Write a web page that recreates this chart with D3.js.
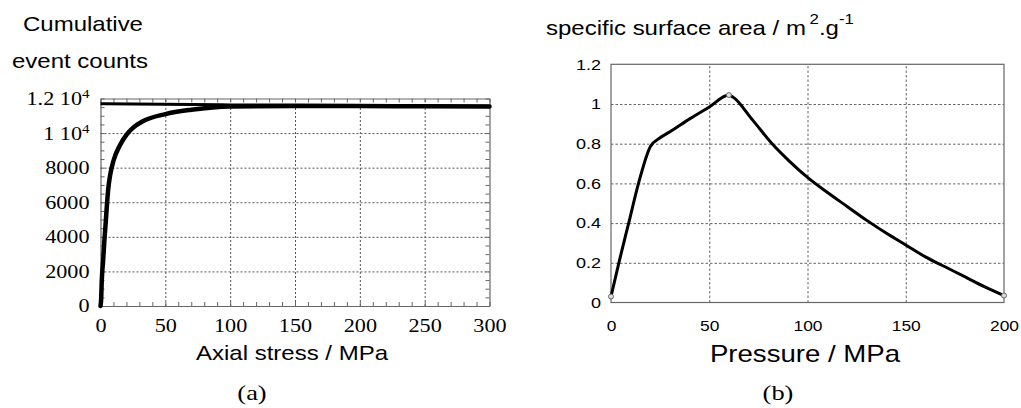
<!DOCTYPE html>
<html>
<head>
<meta charset="utf-8">
<script src="https://cdn.jsdelivr.net/npm/d3@7"></script>
<style>
  html, body { margin: 0; padding: 0; background: #fff; }
  svg { display: block; }
</style>
</head>
<body>
<svg id="chart" width="1021" height="408"></svg>
<script>
// ---------- Data ----------
// (a) cumulative AE event counts vs axial stress (loading branch)
const stressLoad  = [0, 0.5, 1, 2, 3, 4, 5, 6, 7.5, 10, 15, 20, 25, 33, 50, 70, 100, 150, 200, 250, 300];
const countsLoad  = [0, 400, 1500, 2600, 3800, 4800, 5900, 6800, 7600, 8400, 9300, 9900, 10300, 10700, 11100, 11350, 11540, 11560, 11560, 11550, 11540];
// (a) unloading branch (counts stay constant)
const stressUnload = [300, 200, 100, 0];
const countsUnload = [11550, 11590, 11630, 11700];
const aXTicks = [0, 50, 100, 150, 200, 250, 300];
const aYTicks = [0, 2000, 4000, 6000, 8000, 10000, 12000];
const aYTickLabels = ["0", "2000", "4000", "6000", "8000", "1 10|4", "1.2 10|4"];

// (b) specific surface area vs pressure
const pressure = [0, 4, 9, 14, 20, 25, 30, 40, 50, 60, 62, 72, 82, 91, 100, 110, 120, 130, 140, 150, 160, 170, 180, 190, 200];
const ssa      = [0.03, 0.2, 0.4, 0.6, 0.785, 0.83, 0.86, 0.925, 0.985, 1.045, 1.035, 0.92, 0.8, 0.71, 0.63, 0.555, 0.485, 0.415, 0.35, 0.29, 0.23, 0.18, 0.13, 0.08, 0.035];
const markerP  = [0, 60, 200];
const markerS  = [0.03, 1.045, 0.035];
const bXTicks = [0, 50, 100, 150, 200];
const bYTicks = [0, 0.2, 0.4, 0.6, 0.8, 1.0, 1.2];
const bYTickLabels = ["0", "0.2", "0.4", "0.6", "0.8", "1", "1.2"];

// ---------- Helpers ----------
const SX = 1.2; // horizontal stretch of all text in the reference
function stretch(sel) {
  sel.each(function () {
    const t = d3.select(this);
    const x = +t.attr("x") || 0;
    t.attr("transform", `translate(${x},0) scale(${SX},1) translate(${-x},0)`);
  });
}
const SANS = "'Liberation Sans', Arial, sans-serif";
const SERIF = "'Liberation Serif', 'Times New Roman', serif";

const svg = d3.select("#chart");

// ================= Chart (a) =================
const ax = d3.scaleLinear().domain([0, 300]).range([100.5, 489.5]);
const ay = d3.scaleLinear().domain([0, 12000]).range([306, 98.5]);
const ga = svg.append("g");

// grid
ga.append("g").attr("transform", `translate(0,${ay(0)})`)
  .call(d3.axisBottom(ax).tickValues(aXTicks.slice(1, -1)).tickSize(-(ay(0) - ay(12000))).tickFormat(""))
  .call(g => g.select(".domain").remove())
  .call(g => g.selectAll("line").attr("stroke", "#555").attr("stroke-dasharray", "2,2"));
ga.append("g").attr("transform", `translate(${ax(0)},0)`)
  .call(d3.axisLeft(ay).tickValues(aYTicks.slice(1, -1)).tickSize(-(ax(300) - ax(0))).tickFormat(""))
  .call(g => g.select(".domain").remove())
  .call(g => g.selectAll("line").attr("stroke", "#555").attr("stroke-dasharray", "2,2"));

// frame + inward minor ticks
const minorX = d3.range(0, 301, 10);
const minorY = d3.range(0, 12001, 500);
function frameStyle(g) {
  g.select(".domain").attr("stroke", "#666").attr("stroke-width", 1.2);
  g.selectAll("line").attr("stroke", "#666");
  g.selectAll("text").remove();
}
ga.append("g").attr("transform", `translate(0,${ay(0)})`)
  .call(d3.axisBottom(ax).tickValues(minorX).tickSize(-4).tickSizeOuter(0)).call(frameStyle);
ga.append("g").attr("transform", `translate(0,${ay(12000)})`)
  .call(d3.axisTop(ax).tickValues(minorX).tickSize(-4).tickSizeOuter(0)).call(frameStyle);
ga.append("g").attr("transform", `translate(${ax(0)},0)`)
  .call(d3.axisLeft(ay).tickValues(minorY).tickSize(-4).tickSizeOuter(0)).call(frameStyle);
ga.append("g").attr("transform", `translate(${ax(300)},0)`)
  .call(d3.axisRight(ay).tickValues(minorY).tickSize(-4).tickSizeOuter(0)).call(frameStyle);

// tick labels (serif)
const axLab = ga.append("g").attr("transform", `translate(0,${ay(0)})`)
  .call(d3.axisBottom(ax).tickValues(aXTicks).tickSize(0).tickPadding(13).tickFormat(d3.format("d")));
axLab.select(".domain").remove();
axLab.selectAll("text").attr("font-family", SERIF).attr("font-size", 18.5).attr("fill", "#000").call(stretch);

const ayLab = ga.append("g").attr("transform", `translate(${ax(0)},0)`)
  .call(d3.axisLeft(ay).tickValues(aYTicks).tickSize(0).tickPadding(11)
    .tickFormat((d, i) => aYTickLabels[i]));
ayLab.select(".domain").remove();
ayLab.selectAll("text").each(function () {
  const t = d3.select(this);
  const s = t.text();
  if (s.includes("|")) {
    const [base, sup] = s.split("|");
    t.text(null);
    t.append("tspan").text(base);
    t.append("tspan").attr("font-size", 12.5).attr("dy", "-0.55em").text(sup);
  }
}).attr("font-family", SERIF).attr("font-size", 18.5).attr("fill", "#000").call(stretch);

// data lines
const lineA = d3.line().x(d => ax(d[0])).y(d => ay(d[1])).curve(d3.curveMonotoneX);
ga.append("path")
  .datum(stressUnload.map((s, i) => [s, countsUnload[i]]).reverse())
  .attr("d", lineA).attr("fill", "none").attr("stroke", "#000").attr("stroke-width", 3);
ga.append("path")
  .datum(stressLoad.map((s, i) => [s, countsLoad[i]]))
  .attr("d", lineA).attr("fill", "none").attr("stroke", "#000").attr("stroke-width", 4.5)
  .attr("stroke-linejoin", "round").attr("stroke-linecap", "round");

// titles
ga.append("text").attr("x", 23).attr("y", 31.5).text("Cumulative")
  .attr("font-family", SANS).attr("font-size", 20).call(stretch);
ga.append("text").attr("x", 12).attr("y", 68).text("event counts")
  .attr("font-family", SANS).attr("font-size", 20).call(stretch);
ga.append("text").attr("x", 292).attr("y", 360).attr("text-anchor", "middle").text("Axial stress / MPa")
  .attr("font-family", SANS).attr("font-size", 20).call(stretch);
ga.append("text").attr("x", 252).attr("y", 400).attr("text-anchor", "middle").text("(a)")
  .attr("font-family", SERIF).attr("font-size", 22).call(stretch);

// ================= Chart (b) =================
const bx = d3.scaleLinear().domain([0, 200]).range([611, 1004]);
const by = d3.scaleLinear().domain([0, 1.2]).range([302.5, 64.3]);
const gb = svg.append("g");

gb.append("g").attr("transform", `translate(0,${by(0)})`)
  .call(d3.axisBottom(bx).tickValues(bXTicks.slice(1, -1)).tickSize(-(by(0) - by(1.2))).tickFormat(""))
  .call(g => g.select(".domain").remove())
  .call(g => g.selectAll("line").attr("stroke", "#666").attr("stroke-dasharray", "2.5,2"));
gb.append("g").attr("transform", `translate(${bx(0)},0)`)
  .call(d3.axisLeft(by).tickValues(bYTicks.slice(1, -1)).tickSize(-(bx(200) - bx(0))).tickFormat(""))
  .call(g => g.select(".domain").remove())
  .call(g => g.selectAll("line").attr("stroke", "#666").attr("stroke-dasharray", "2.5,2"));

// frame
gb.append("rect").attr("x", bx(0)).attr("y", by(1.2))
  .attr("width", bx(200) - bx(0)).attr("height", by(0) - by(1.2))
  .attr("fill", "none").attr("stroke", "#666").attr("stroke-width", 1.2);

const bxLab = gb.append("g").attr("transform", `translate(0,${by(0)})`)
  .call(d3.axisBottom(bx).tickValues(bXTicks).tickSize(0).tickPadding(18).tickFormat(d3.format("d")));
bxLab.select(".domain").remove();
bxLab.selectAll("text").attr("font-family", SANS).attr("font-size", 14.5).attr("fill", "#000").call(stretch);

const byLab = gb.append("g").attr("transform", `translate(${bx(0)},0)`)
  .call(d3.axisLeft(by).tickValues(bYTicks).tickSize(0).tickPadding(10)
    .tickFormat((d, i) => bYTickLabels[i]));
byLab.select(".domain").remove();
byLab.selectAll("text").attr("font-family", SANS).attr("font-size", 15).attr("fill", "#000").call(stretch);

const lineB = d3.line().x(d => bx(d[0])).y(d => by(d[1])).curve(d3.curveMonotoneX);
gb.append("path")
  .datum(pressure.map((p, i) => [p, ssa[i]]))
  .attr("d", lineB).attr("fill", "none").attr("stroke", "#000").attr("stroke-width", 3)
  .attr("stroke-linejoin", "round");
gb.selectAll("circle.mk").data(markerP.map((p, i) => [p, markerS[i]])).join("circle")
  .attr("class", "mk").attr("cx", d => bx(d[0])).attr("cy", d => by(d[1])).attr("r", 2.5)
  .attr("fill", "#ddd").attr("stroke", "#666").attr("stroke-width", 1);

// titles
const tb = gb.append("text").attr("x", 546).attr("y", 35)
  .attr("font-family", SANS).attr("font-size", 20);
tb.append("tspan").text("specific surface area / m");
tb.append("tspan").attr("font-size", 14).attr("dy", -11).attr("dx", 3).text("2");
tb.append("tspan").attr("dy", 11).text(".g");
tb.append("tspan").attr("font-size", 14).attr("dy", -11).text("-1");
tb.call(stretch);

gb.append("text").attr("x", 805).attr("y", 362).attr("text-anchor", "middle").text("Pressure / MPa")
  .attr("font-family", SANS).attr("font-size", 23).call(stretch);
gb.append("text").attr("x", 778).attr("y", 400).attr("text-anchor", "middle").text("(b)")
  .attr("font-family", SERIF).attr("font-size", 22).call(stretch);
</script>
</body>
</html>
